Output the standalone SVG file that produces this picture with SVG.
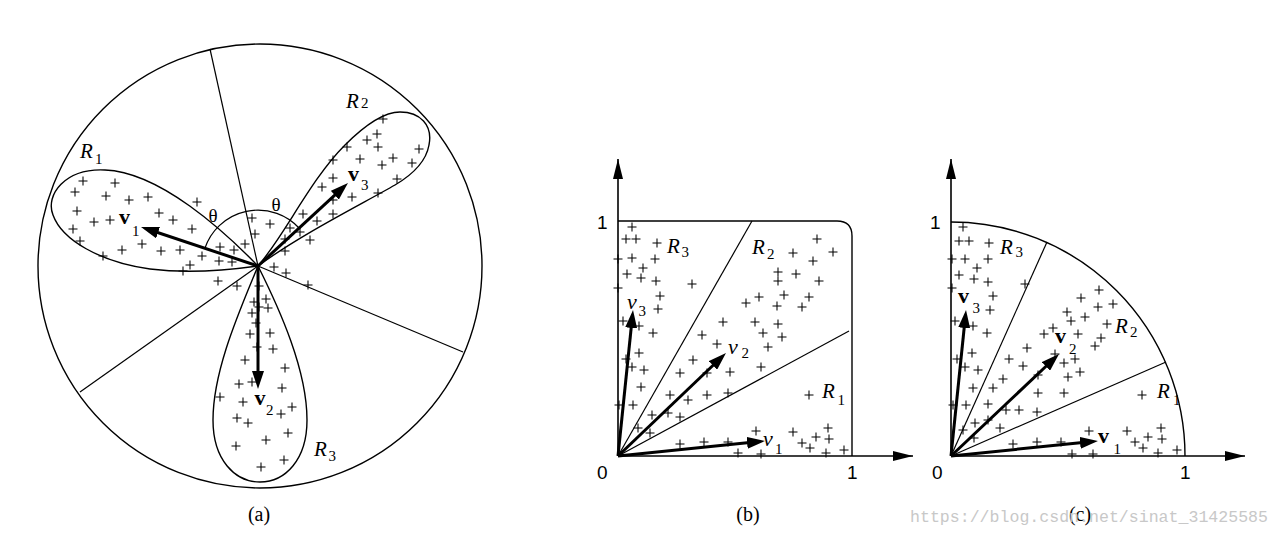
<svg xmlns="http://www.w3.org/2000/svg" xmlns:xlink="http://www.w3.org/1999/xlink" width="1282" height="547" viewBox="0 0 1282 547">
<style>
.ln{fill:none;stroke:#000;stroke-width:1.2}
.ol{fill:none;stroke:#000;stroke-width:1.4}
.vec{fill:none;stroke:#000;stroke-width:3;marker-end:url(#ah)}
.axis{fill:none;stroke:#000;stroke-width:1.6;marker-end:url(#ax)}
.pl{fill:none;stroke:#000;stroke-width:1.05}
.ser{font-family:"Liberation Serif","Times New Roman",serif;fill:#000}
.it{font-style:italic}
.bd{font-weight:bold}
.R{font-size:21px}
.sub{font-size:15px}
.v{font-size:22px}
.num{font-family:"Liberation Sans",Arial,sans-serif;font-size:19px;fill:#000}
.cap{font-family:"Liberation Serif","Times New Roman",serif;font-size:20px;fill:#000}
.wm{font-family:"Liberation Mono","Courier New",monospace;font-size:16.5px;fill:#c8c8c8}
</style>
<defs>
<marker id="ah" viewBox="0 0 18 12" refX="10" refY="6" markerWidth="18" markerHeight="12" markerUnits="userSpaceOnUse" orient="auto"><path d="M0,0 L18,6 L0,12 z" fill="#000"/></marker>
<marker id="ax" viewBox="0 0 20 10" refX="20" refY="5" markerWidth="20" markerHeight="10" markerUnits="userSpaceOnUse" orient="auto"><path d="M0,0 L20,5 L0,10 z" fill="#000"/></marker>
<path id="p" class="pl" d="M-4.5,0 H4.5 M0,-4.5 V4.5"/>
</defs>
<rect width="1282" height="547" fill="#fff"/>

<!-- Panel (a) -->
<g id="panel-a">
<circle class="ol" cx="260" cy="266" r="222"/>
<g id="a-separators">
<line class="ln" x1="258" y1="266" x2="210" y2="49"/>
<line class="ln" x1="258" y1="266" x2="463" y2="352"/>
<line class="ln" x1="258" y1="266" x2="80" y2="392"/>
</g>
<g id="a-lobe-R1"><path class="ol" d="M258,266 C225,232 160,172 105,170 C65,168 45,195 53,215 C62,240 100,262 150,269 C190,274 230,270 258,266 Z"/></g>
<g id="a-lobe-R2"><path class="ol" d="M258,266 C285,235 310,180 345,145 C365,125 385,112 400,112 C420,112 433,125 429,145 C426,162 412,175 395,185 C360,205 300,235 258,266 Z"/></g>
<g id="a-lobe-R3"><path class="ol" d="M258,266 C240,310 213,370 213,420 C213,460 235,482 260,482 C285,482 307,460 307,420 C307,370 280,310 258,266 Z"/></g>
<path id="a-angle-arc" class="ln" d="M205,248 A56,56 0 0 1 299,228"/>
<g id="a-points">
<use href="#p" x="83" y="181"/><use href="#p" x="115" y="183"/><use href="#p" x="75" y="192"/><use href="#p" x="106" y="196"/>
<use href="#p" x="129" y="200"/><use href="#p" x="148" y="197"/><use href="#p" x="197" y="202"/><use href="#p" x="77" y="211"/>
<use href="#p" x="159" y="213"/><use href="#p" x="173" y="220"/><use href="#p" x="94" y="222"/><use href="#p" x="110" y="220"/>
<use href="#p" x="73" y="229"/><use href="#p" x="192" y="229"/><use href="#p" x="80" y="241"/><use href="#p" x="142" y="244"/>
<use href="#p" x="122" y="250"/><use href="#p" x="161" y="251"/><use href="#p" x="180" y="250"/><use href="#p" x="103" y="256"/>
<use href="#p" x="202" y="256"/><use href="#p" x="220" y="247"/><use href="#p" x="234" y="250"/><use href="#p" x="245" y="244"/>
<use href="#p" x="219" y="261"/><use href="#p" x="232" y="262"/><use href="#p" x="190" y="265"/><use href="#p" x="183" y="271"/>
<use href="#p" x="218" y="281"/><use href="#p" x="237" y="286"/>
<use href="#p" x="252" y="218"/><use href="#p" x="270" y="224"/><use href="#p" x="255" y="234"/>
<use href="#p" x="383" y="119"/><use href="#p" x="377" y="134"/><use href="#p" x="367" y="140"/><use href="#p" x="378" y="147"/>
<use href="#p" x="419" y="149"/><use href="#p" x="347" y="147"/><use href="#p" x="333" y="160"/><use href="#p" x="360" y="159"/>
<use href="#p" x="382" y="165"/><use href="#p" x="393" y="158"/><use href="#p" x="412" y="163"/><use href="#p" x="397" y="179"/>
<use href="#p" x="333" y="178"/><use href="#p" x="322" y="187"/><use href="#p" x="378" y="193"/><use href="#p" x="352" y="197"/>
<use href="#p" x="333" y="200"/><use href="#p" x="333" y="214"/><use href="#p" x="303" y="214"/><use href="#p" x="317" y="221"/>
<use href="#p" x="290" y="228"/><use href="#p" x="300" y="232"/><use href="#p" x="285" y="239"/><use href="#p" x="310" y="240"/>
<use href="#p" x="285" y="251"/><use href="#p" x="274" y="267"/><use href="#p" x="286" y="273"/><use href="#p" x="308" y="285"/>
<use href="#p" x="259" y="286"/><use href="#p" x="254" y="302"/><use href="#p" x="266" y="299"/><use href="#p" x="268" y="308"/>
<use href="#p" x="259" y="307"/><use href="#p" x="252" y="313"/><use href="#p" x="256" y="323"/><use href="#p" x="250" y="334"/>
<use href="#p" x="270" y="333"/><use href="#p" x="257" y="347"/><use href="#p" x="273" y="349"/><use href="#p" x="245" y="360"/>
<use href="#p" x="285" y="368"/><use href="#p" x="239" y="384"/><use href="#p" x="252" y="382"/><use href="#p" x="282" y="388"/>
<use href="#p" x="220" y="397"/><use href="#p" x="243" y="402"/><use href="#p" x="292" y="407"/><use href="#p" x="281" y="414"/>
<use href="#p" x="237" y="418"/><use href="#p" x="248" y="423"/><use href="#p" x="288" y="433"/><use href="#p" x="266" y="440"/>
<use href="#p" x="236" y="446"/><use href="#p" x="284" y="460"/><use href="#p" x="261" y="467"/>
</g>
<g id="a-vectors">
<line class="vec" x1="258" y1="266" x2="148.6" y2="229.5"/>
<line class="vec" x1="258" y1="266" x2="342.1" y2="188.4"/>
<line class="vec" x1="258" y1="266" x2="258" y2="381"/>
</g>
<g id="a-labels">
<text class="ser it R" x="80" y="158">R</text><text class="ser sub" x="95" y="164">1</text>
<text class="ser it R" x="346" y="108">R</text><text class="ser sub" x="361" y="108">2</text>
<text class="ser it R" x="314" y="456">R</text><text class="ser sub" x="328.5" y="461">3</text>
<text class="ser bd v" x="119" y="224">v</text><text class="ser sub" x="132" y="236">1</text>
<text class="ser bd v" x="348" y="181">v</text><text class="ser sub" x="361" y="190">3</text>
<text class="ser bd v" x="254.5" y="405">v</text><text class="ser sub" x="266" y="415">2</text>
<text class="ser" x="208.5" y="222" font-size="19">θ</text>
<text class="ser" x="271.5" y="211" font-size="19">θ</text>
</g>
<text class="cap" x="259" y="521" text-anchor="middle">(a)</text>
</g>

<!-- Panel (b) -->
<g id="panel-b">
<line class="axis" x1="618" y1="456" x2="618" y2="159"/>
<line class="axis" x1="618" y1="456" x2="913" y2="456"/>
<path class="ol" d="M618,221 H837 Q852,221 852,236 V456"/>
<g id="b-separators">
<line class="ln" x1="618" y1="456" x2="752" y2="221"/>
<line class="ln" x1="618" y1="456" x2="849" y2="331"/>
</g>
<g id="b-points">
<use href="#p" x="632" y="227"/><use href="#p" x="626" y="239"/><use href="#p" x="636" y="239"/><use href="#p" x="657" y="243"/>
<use href="#p" x="618" y="259"/><use href="#p" x="632" y="258"/><use href="#p" x="655" y="259"/><use href="#p" x="643" y="268"/>
<use href="#p" x="627" y="274"/><use href="#p" x="641" y="278"/><use href="#p" x="656" y="281"/><use href="#p" x="692" y="284"/>
<use href="#p" x="618" y="288"/><use href="#p" x="660" y="296"/><use href="#p" x="658" y="309"/><use href="#p" x="623" y="321"/>
<use href="#p" x="639" y="326"/><use href="#p" x="653" y="333"/><use href="#p" x="639" y="353"/><use href="#p" x="626" y="359"/>
<use href="#p" x="632" y="367"/><use href="#p" x="644" y="370"/><use href="#p" x="641" y="387"/><use href="#p" x="619" y="405"/>
<use href="#p" x="633" y="405"/><use href="#p" x="638" y="428"/><use href="#p" x="652" y="415"/><use href="#p" x="668" y="413"/>
<use href="#p" x="680" y="417"/><use href="#p" x="650" y="433"/><use href="#p" x="670" y="395"/><use href="#p" x="688" y="400"/>
<use href="#p" x="707" y="395"/><use href="#p" x="728" y="393"/><use href="#p" x="680" y="373"/><use href="#p" x="693" y="360"/>
<use href="#p" x="707" y="373"/><use href="#p" x="730" y="372"/><use href="#p" x="761" y="367"/><use href="#p" x="702" y="335"/>
<use href="#p" x="717" y="344"/><use href="#p" x="723" y="322"/><use href="#p" x="755" y="322"/><use href="#p" x="763" y="333"/>
<use href="#p" x="778" y="324"/><use href="#p" x="782" y="337"/><use href="#p" x="768" y="347"/><use href="#p" x="746" y="303"/>
<use href="#p" x="759" y="297"/><use href="#p" x="777" y="306"/><use href="#p" x="784" y="295"/><use href="#p" x="809" y="297"/>
<use href="#p" x="802" y="307"/><use href="#p" x="778" y="272"/><use href="#p" x="778" y="281"/><use href="#p" x="796" y="274"/>
<use href="#p" x="819" y="281"/><use href="#p" x="793" y="253"/><use href="#p" x="813" y="261"/><use href="#p" x="817" y="239"/>
<use href="#p" x="833" y="252"/><use href="#p" x="680" y="444"/><use href="#p" x="704" y="442"/><use href="#p" x="728" y="442"/>
<use href="#p" x="756" y="431"/><use href="#p" x="738" y="453"/><use href="#p" x="761" y="454"/><use href="#p" x="793" y="432"/>
<use href="#p" x="802" y="443"/><use href="#p" x="810" y="448"/><use href="#p" x="816" y="437"/><use href="#p" x="828" y="428"/>
<use href="#p" x="829" y="439"/><use href="#p" x="826" y="453"/><use href="#p" x="844" y="450"/><use href="#p" x="809" y="395"/>
</g>
<g id="b-vectors">
<line class="vec" x1="618" y1="456" x2="757" y2="441.8"/>
<line class="vec" x1="618" y1="456" x2="720.2" y2="358.5"/>
<line class="vec" x1="618" y1="456" x2="632.2" y2="318"/>
</g>
<g id="b-labels">
<text class="ser it R" x="667" y="253">R</text><text class="ser sub" x="681.5" y="257">3</text>
<text class="ser it R" x="752" y="254">R</text><text class="ser sub" x="767" y="259">2</text>
<text class="ser it R" x="822" y="398">R</text><text class="ser sub" x="837.5" y="405">1</text>
<text class="ser it v" x="763" y="446">v</text><text class="ser sub" x="775" y="454">1</text>
<text class="ser it v" x="728" y="354">v</text><text class="ser sub" x="741.5" y="358">2</text>
<text class="ser it v" x="627" y="309">v</text><text class="ser sub" x="638.5" y="316">3</text>
<text class="num" x="597" y="229">1</text>
<text class="num" x="597" y="479">0</text>
<text class="num" x="847" y="479">1</text>
</g>
<text class="cap" x="748" y="521" text-anchor="middle">(b)</text>
</g>

<!-- Panel (c) -->
<g id="panel-c">
<line class="axis" x1="951" y1="456" x2="951" y2="159"/>
<line class="axis" x1="951" y1="456" x2="1245" y2="456"/>
<path class="ol" d="M951,222 A234,234 0 0 1 1185,456"/>
<g id="c-separators">
<line class="ln" x1="951" y1="456" x2="1047" y2="242"/>
<line class="ln" x1="951" y1="456" x2="1166" y2="362"/>
</g>
<g id="c-points">
<use href="#p" x="963" y="227"/><use href="#p" x="959" y="241"/><use href="#p" x="969" y="241"/><use href="#p" x="989" y="243"/>
<use href="#p" x="952" y="259"/><use href="#p" x="965" y="259"/><use href="#p" x="988" y="259"/><use href="#p" x="977" y="268"/>
<use href="#p" x="959" y="275"/><use href="#p" x="974" y="279"/><use href="#p" x="988" y="282"/><use href="#p" x="1025" y="284"/>
<use href="#p" x="952" y="288"/><use href="#p" x="993" y="296"/><use href="#p" x="990" y="310"/><use href="#p" x="955" y="321"/>
<use href="#p" x="973" y="326"/><use href="#p" x="987" y="333"/><use href="#p" x="972" y="353"/><use href="#p" x="957" y="359"/>
<use href="#p" x="965" y="367"/><use href="#p" x="978" y="370"/><use href="#p" x="973" y="388"/><use href="#p" x="953" y="405"/>
<use href="#p" x="966" y="405"/><use href="#p" x="988" y="404"/><use href="#p" x="975" y="423"/><use href="#p" x="988" y="420"/>
<use href="#p" x="1000" y="428"/><use href="#p" x="963" y="430"/><use href="#p" x="974" y="438"/><use href="#p" x="993" y="388"/>
<use href="#p" x="1003" y="379"/><use href="#p" x="1009" y="359"/><use href="#p" x="1023" y="366"/><use href="#p" x="1027" y="348"/>
<use href="#p" x="1006" y="410"/><use href="#p" x="1019" y="410"/><use href="#p" x="1037" y="412"/><use href="#p" x="1038" y="393"/>
<use href="#p" x="1064" y="393"/><use href="#p" x="1038" y="375"/><use href="#p" x="1055" y="354"/><use href="#p" x="1064" y="363"/>
<use href="#p" x="1068" y="377"/><use href="#p" x="1075" y="359"/><use href="#p" x="1080" y="372"/><use href="#p" x="1044" y="334"/>
<use href="#p" x="1053" y="328"/><use href="#p" x="1078" y="334"/><use href="#p" x="1067" y="312"/><use href="#p" x="1071" y="321"/>
<use href="#p" x="1085" y="317"/><use href="#p" x="1095" y="346"/><use href="#p" x="1101" y="338"/><use href="#p" x="1098" y="307"/>
<use href="#p" x="1081" y="298"/><use href="#p" x="1113" y="304"/><use href="#p" x="1099" y="290"/><use href="#p" x="1107" y="324"/>
<use href="#p" x="1142" y="395"/><use href="#p" x="1013" y="444"/><use href="#p" x="1037" y="442"/><use href="#p" x="1061" y="442"/>
<use href="#p" x="1089" y="431"/><use href="#p" x="1072" y="454"/><use href="#p" x="1093" y="454"/><use href="#p" x="1127" y="431"/>
<use href="#p" x="1135" y="442"/><use href="#p" x="1143" y="448"/><use href="#p" x="1148" y="437"/><use href="#p" x="1161" y="428"/>
<use href="#p" x="1162" y="439"/><use href="#p" x="1158" y="453"/><use href="#p" x="1177" y="450"/>
</g>
<g id="c-vectors">
<line class="vec" x1="951" y1="456" x2="1090" y2="441.8"/>
<line class="vec" x1="951" y1="456" x2="1053.2" y2="359.5"/>
<line class="vec" x1="951" y1="456" x2="965.2" y2="318"/>
</g>
<g id="c-labels">
<text class="ser it R" x="1000" y="254">R</text><text class="ser sub" x="1015.5" y="257">3</text>
<text class="ser it R" x="1115" y="333">R</text><text class="ser sub" x="1130" y="337">2</text>
<text class="ser it R" x="1157" y="398">R</text><text class="ser sub" x="1173" y="405">1</text>
<text class="ser bd v" x="1098" y="443">v</text><text class="ser sub" x="1113.5" y="454">1</text>
<text class="ser bd v" x="1055" y="343">v</text><text class="ser sub" x="1069" y="354">2</text>
<text class="ser bd v" x="958" y="303">v</text><text class="ser sub" x="972.5" y="313">3</text>
<text class="num" x="930" y="229">1</text>
<text class="num" x="932" y="479">0</text>
<text class="num" x="1180" y="479">1</text>
</g>
<text class="cap" x="1080" y="521" text-anchor="middle">(c)</text>
</g>

<text class="wm" x="910" y="522" textLength="358" lengthAdjust="spacingAndGlyphs">https://blog.csdn.net/sinat_31425585</text>
</svg>
